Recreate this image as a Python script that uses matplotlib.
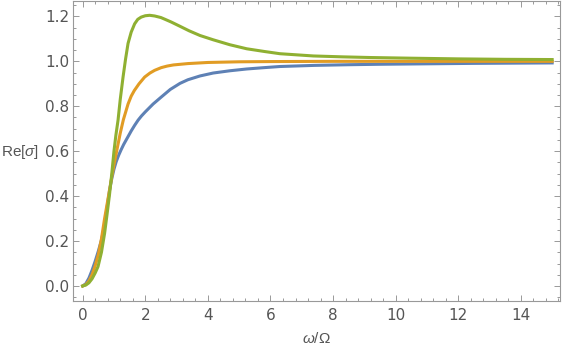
import numpy as np
import matplotlib
matplotlib.use("Agg")
import matplotlib.pyplot as plt
from matplotlib.ticker import MultipleLocator

# values
blue_x = [0, 0.1, 0.2, 0.3, 0.4, 0.5, 0.6, 0.7, 0.8, 0.86, 0.93, 1.0, 1.07, 1.15, 1.23, 1.31, 1.39, 1.47, 1.55, 1.66, 1.77, 1.88, 2.0, 2.25, 2.51, 2.8, 3.11, 3.36, 3.75, 4.17, 4.7, 5.24, 5.8, 6.3, 7.4, 8.5, 9.5, 11.0, 12.5, 15.0]
blue_y = [0, 0.01, 0.035, 0.07, 0.11, 0.155, 0.204, 0.27, 0.37, 0.427, 0.478, 0.52, 0.553, 0.582, 0.607, 0.63, 0.65, 0.67, 0.69, 0.715, 0.738, 0.757, 0.775, 0.81, 0.841, 0.875, 0.902, 0.918, 0.935, 0.948, 0.958, 0.966, 0.972, 0.977, 0.982, 0.985, 0.987, 0.989, 0.991, 0.993]

orange_x = [0, 0.1, 0.2, 0.3, 0.4, 0.5, 0.6, 0.7, 0.8, 0.91, 1.0, 1.1, 1.2, 1.3, 1.45, 1.55, 1.65, 1.8, 1.98, 2.15, 2.3, 2.51, 2.7, 2.9, 3.36, 4.0, 5.0, 6.0, 8.0, 10.0, 15.0]
orange_y = [0, 0.006, 0.022, 0.05, 0.09, 0.14, 0.21, 0.3, 0.38, 0.47, 0.54, 0.61, 0.68, 0.74, 0.81, 0.845, 0.87, 0.9, 0.93, 0.948, 0.96, 0.972, 0.979, 0.984, 0.99, 0.995, 0.998, 0.999, 1.0, 1.0, 1.0]

green_x = [0, 0.1, 0.2, 0.3, 0.4, 0.49, 0.6, 0.7, 0.78, 0.86, 0.93, 1.0, 1.06, 1.13, 1.2, 1.29, 1.37, 1.45, 1.55, 1.66, 1.76, 1.87, 2.0, 2.14, 2.3, 2.5, 2.65, 2.83, 3.11, 3.4, 3.75, 4.17, 4.7, 5.24, 5.8, 6.3, 7.37, 8.3, 9.2, 10.5, 12.0, 13.5, 15.0]
green_y = [0, 0.004, 0.014, 0.032, 0.058, 0.086, 0.15, 0.234, 0.32, 0.41, 0.5, 0.6, 0.67, 0.738, 0.83, 0.93, 1.01, 1.08, 1.13, 1.167, 1.187, 1.197, 1.203, 1.205, 1.202, 1.195, 1.186, 1.175, 1.156, 1.136, 1.115, 1.096, 1.074, 1.056, 1.044, 1.034, 1.024, 1.02, 1.017, 1.014, 1.011, 1.009, 1.008]

cols = ["#5E81B5", "#E19C24", "#8FB032"]
gray = "#999999"
txt = "#555555"

plt.rcParams['mathtext.fontset'] = 'custom'
plt.rcParams['mathtext.rm'] = 'Liberation Sans'
plt.rcParams['mathtext.it'] = 'Liberation Sans:italic'

fig = plt.figure(figsize=(5.62, 3.49), dpi=100)
ax = fig.add_axes([0.1304, 0.1375, 0.866, 0.8605])

ax.plot(blue_x, blue_y, color=cols[0], lw=2.2)
ax.plot(orange_x, orange_y, color=cols[1], lw=2.2)
ax.plot(green_x, green_y, color=cols[2], lw=2.2)

ax.set_xlim(-0.3, 15.25)
ax.set_ylim(-0.067, 1.27)

ax.xaxis.set_major_locator(MultipleLocator(2))
ax.xaxis.set_minor_locator(MultipleLocator(0.4))
ax.yaxis.set_major_locator(MultipleLocator(0.2))
ax.yaxis.set_minor_locator(MultipleLocator(0.05))
ax.yaxis.set_major_formatter(matplotlib.ticker.FormatStrFormatter('%.1f'))

for s in ax.spines.values():
    s.set_color(gray)
    s.set_linewidth(0.8)

ax.tick_params(which='both', direction='in', top=True, right=True, color=gray, width=0.7, labelcolor=txt, labelsize=11)
ax.tick_params(which='major', length=4)
ax.tick_params(which='minor', length=2.2)
ax.tick_params(axis='x', pad=5)
ax.tick_params(axis='y', pad=3)

ax.set_xlabel(r"$\omega/\Omega$", color=txt, fontsize=11, labelpad=6)
ax.set_ylabel(r"Re[$\sigma$]", color=txt, fontsize=11, family='Liberation Sans', rotation=0, ha='right', va='center')
ax.yaxis.set_label_coords(-0.071, 0.495)

plt.savefig("out.png", dpi=100)
